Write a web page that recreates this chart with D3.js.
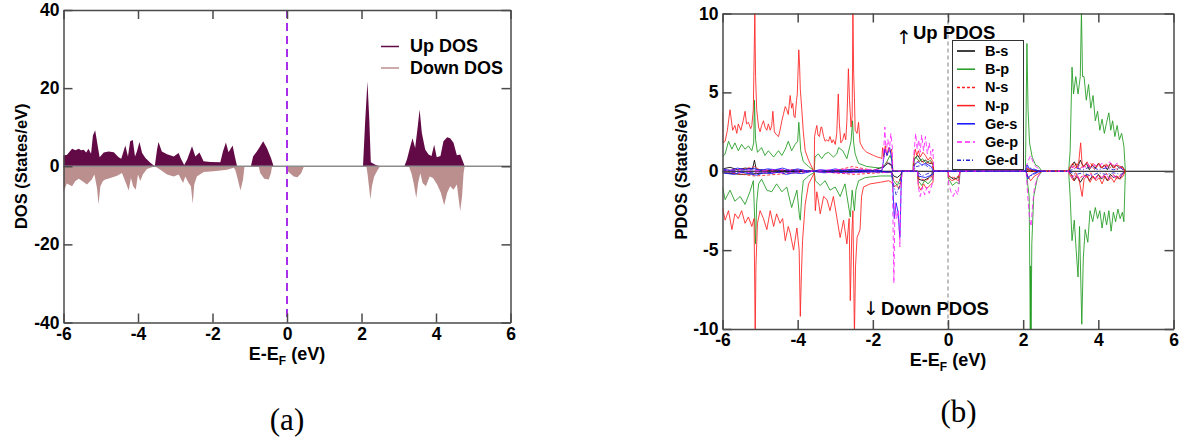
<!DOCTYPE html>
<html>
<head>
<meta charset="utf-8">
<script src="https://cdn.jsdelivr.net/npm/d3@7"></script>
<style>
    body { margin: 0; background: #fff; }
    svg { display: block; font-family: "Liberation Sans", Arial, sans-serif; }
    .axis path, .axis line { stroke: #4a4a4a; stroke-width: 1.5; }
    .axis text { font-size: 17.5px; font-weight: bold; fill: #000; font-family: "Liberation Sans", Arial, sans-serif; }
    .title { font-weight: bold; fill: #000; }
    .panel-label { font-family: "Liberation Serif", "Times New Roman", serif; font-size: 31px; fill: #000; }
</style>
</head>
<body>
<svg id="chart" width="1184" height="440"></svg>
<script>
"use strict";

// ---- panel (a): total DOS, [energy (eV), states/eV] ----
const upDos = [
    [-6.0, 2.8], [-5.91, 2.9], [-5.77, 4.5], [-5.68, 4.1], [-5.59, 4.5], [-5.53, 4.1], [-5.46, 4.2],
    [-5.39, 3.5], [-5.33, 4.5], [-5.26, 3.2], [-5.21, 7.9], [-5.15, 9.2], [-5.08, 5.1], [-5.03, 2.3],
    [-4.92, 3.5], [-4.79, 3.8], [-4.65, 3.6], [-4.52, 2.3], [-4.45, 1.9], [-4.34, 5.3], [-4.27, 2.5],
    [-4.21, 6.4], [-4.14, 6.7], [-4.08, 2.5], [-4.03, 3.8], [-3.96, 6.2], [-3.89, 3.4], [-3.80, 2.1],
    [-3.67, 0.9], [-3.55, 0], [-3.49, 4.2], [-3.45, 6.2], [-3.36, 3.8], [-3.22, 3.1], [-3.04, 2.5],
    [-2.91, 3.4], [-2.85, 2.0], [-2.76, 0.3], [-2.68, 1.7], [-2.55, 5.1], [-2.46, 2.5], [-2.35, 3.5],
    [-2.24, 1.3], [-2.06, 1.1], [-1.79, 1.0], [-1.72, 3.8], [-1.64, 6.1], [-1.57, 3.6], [-1.46, 5.3],
    [-1.40, 2.5], [-1.34, 0], [-0.97, 0], [-0.91, 2.5], [-0.81, 3.8], [-0.72, 5.1], [-0.64, 6.4],
    [-0.54, 4.7], [-0.43, 2.1], [-0.36, 0], [2.04, 0], [2.10, 11.8], [2.16, 21.7], [2.21, 11.8],
    [2.25, 1.0], [2.37, 0.4], [2.49, 0], [3.15, 0], [3.22, 1.7], [3.31, 5.1], [3.37, 7.2], [3.44, 4.7],
    [3.51, 10.2], [3.56, 14.5], [3.62, 8.5], [3.71, 4.3], [3.80, 3.0], [3.88, 2.6], [3.95, 5.5],
    [4.02, 2.3], [4.12, 2.6], [4.20, 6.4], [4.30, 7.4], [4.38, 7.2], [4.47, 6.0], [4.56, 2.8],
    [4.65, 3.0], [4.72, 1.3], [4.77, 0]
];
const downDos = [
    [-6.0, -6.5], [-5.91, -4.4], [-5.77, -5.1], [-5.68, -3.8], [-5.59, -3.2], [-5.50, -3.8], [-5.37, -4.7],
    [-5.24, -3.4], [-5.17, -2.1], [-5.10, -5.6], [-5.06, -9.8], [-5.01, -5.1], [-4.94, -3.8], [-4.88, -3.4],
    [-4.74, -3.0], [-4.56, -2.4], [-4.43, -1.7], [-4.31, -4.7], [-4.25, -6.2], [-4.19, -3.0], [-4.13, -5.1],
    [-4.06, -6.0], [-4.00, -2.1], [-3.94, -3.8], [-3.87, -2.1], [-3.76, -0.7], [-3.55, 0], [-3.40, -0.9],
    [-3.22, -2.1], [-3.04, -2.6], [-2.91, -2.1], [-2.79, -4.3], [-2.73, -2.6], [-2.64, -4.3], [-2.58, -5.1],
    [-2.53, -9.6], [-2.49, -4.7], [-2.42, -2.6], [-2.24, -1.5], [-1.97, -1.3], [-1.61, -0.9], [-1.43, -0.4],
    [-1.39, -0.9], [-1.33, -3.0], [-1.25, -6.2], [-1.18, -3.4], [-1.14, 0], [-0.76, 0], [-0.72, -1.7],
    [-0.61, -3.2], [-0.49, -3.4], [-0.43, -1.7], [-0.40, 0], [-0.05, 0], [0.02, -1.3], [0.18, -2.6],
    [0.28, -2.8], [0.38, -1.8], [0.45, -0.1], [0.47, 0], [2.13, 0], [2.16, -1.8], [2.20, -5.1],
    [2.24, -8.5], [2.28, -5.1], [2.34, -2.6], [2.43, -1.0], [2.50, 0], [3.27, 0], [3.34, -1.8],
    [3.40, -4.3], [3.47, -8.1], [3.52, -4.3], [3.58, -1.8], [3.64, -4.3], [3.73, -5.1], [3.83, -2.6],
    [3.92, -3.0], [4.03, -4.7], [4.13, -6.8], [4.22, -10.0], [4.30, -6.8], [4.38, -5.1], [4.47, -6.0],
    [4.56, -4.7], [4.65, -11.5], [4.70, -7.7], [4.74, -1.8], [4.77, 0]
];
const dosLegend = ['Up DOS', 'Down DOS'];

// ---- panel (b): projected DOS, [energy (eV), states/eV] ----
const bsUp = [
    [-6, 0.15], [-5.8, 0.25], [-5.6, 0.1], [-5.4, 0.2], [-5.2, 0.15], [-5.15, 0.7], [-5.1, 0.1], [-4.8, 0.05],
    [-4.0, 0.05], [-3.6, 0], [-3.0, 0.05], [-2.5, 0.1], [-2.0, 0.05], [-1.7, 0.3], [-1.6, 0.5], [-1.5, 0.4],
    [-1.47, 0], [-0.92, 0], [-0.9, 0.8], [-0.8, 1.0], [-0.7, 0.6], [-0.6, 0.7], [-0.5, 0.5], [-0.4, 0.5],
    [-0.38, 0], [2.06, 0], [2.1, 0.1], [2.5, 0], [3.2, 0], [3.28, 0.3], [3.36, 0.6], [3.44, 0.2], [3.52, 0.7],
    [3.6, 0.3], [3.68, 0.5], [3.76, 0.1], [3.84, 0.4], [3.92, 0.2], [4.0, 0.5], [4.08, 0.2], [4.16, 0.4],
    [4.24, 0.1], [4.32, 0.5], [4.4, 0.2], [4.48, 0.4], [4.56, 0.2], [4.64, 0.3], [4.72, 0]
];
const bsDown = [
    [-6, -0.1], [-5.5, -0.2], [-5.1, -0.15], [-4.5, -0.05], [-3.6, 0], [-3, -0.05], [-2, -0.03], [-1.5, -0.05],
    [-1.45, -0.3], [-1.35, -0.4], [-1.25, -0.2], [-1.23, 0], [-0.81, 0], [-0.79, -0.5], [-0.65, -0.6],
    [-0.5, -0.4], [-0.38, 0], [0, 0], [0.02, -0.3], [0.15, -0.5], [0.28, -0.4], [0.32, 0], [3.2, 0],
    [3.28, -0.2], [3.36, -0.6], [3.44, -0.3], [3.52, -0.7], [3.6, -0.4], [3.68, -0.2], [3.76, -0.6],
    [3.84, -0.3], [3.92, -0.5], [4.0, -0.2], [4.08, -0.5], [4.16, -0.3], [4.24, -0.6], [4.32, -0.2],
    [4.4, -0.4], [4.48, -0.3], [4.56, -0.5], [4.64, -0.2], [4.72, 0]
];
const bpUp = [
    [-6.00, 0.9], [-5.93, 1.1], [-5.84, 1.9], [-5.75, 1.4], [-5.67, 1.8], [-5.58, 1.3], [-5.49, 1.7],
    [-5.40, 1.4], [-5.31, 1.6], [-5.22, 1.3], [-5.17, 1.8], [-5.15, 4.5], [-5.12, 2.0], [-5.07, 1.2],
    [-4.96, 1.5], [-4.87, 1.0], [-4.78, 1.3], [-4.64, 0.9], [-4.51, 1.3], [-4.42, 1.0], [-4.33, 1.4],
    [-4.25, 1.9], [-4.16, 1.3], [-4.07, 1.7], [-4.00, 1.9], [-3.97, 3.1], [-3.95, 2.5], [-3.92, 1.3],
    [-3.85, 0.6], [-3.71, 0.3], [-3.60, 0.1], [-3.56, 0], [-3.54, 0.9], [-3.45, 1.1], [-3.36, 0.8],
    [-3.27, 1.1], [-3.18, 1.2], [-3.05, 0.9], [-2.96, 1.1], [-2.91, 1.5], [-2.80, 1.3], [-2.69, 0.8],
    [-2.58, 1.9], [-2.54, 3.2], [-2.51, 1.8], [-2.47, 1.1], [-2.38, 0.5], [-2.16, 0.3], [-1.80, 0.2],
    [-1.71, 0.3], [-1.63, 0.6], [-1.54, 1.0], [-1.48, 0.6], [-1.47, 0], [-0.93, 0], [-0.92, 0.6],
    [-0.85, 0.9], [-0.76, 0.6], [-0.68, 0.8], [-0.58, 0.5], [-0.47, 0.7], [-0.39, 0.4], [-0.38, 0],
    [2.06, 0], [2.10, 8.1], [2.13, 3.9], [2.17, 1.8], [2.24, 0.9], [2.33, 0.4], [2.41, 0.3], [2.50, 0],
    [3.21, 0], [3.25, 1.3], [3.30, 6.6], [3.34, 4.9], [3.40, 6.0], [3.46, 4.9], [3.52, 6.0], [3.55, 10.2],
    [3.58, 6.0], [3.62, 6.0], [3.68, 4.5], [3.74, 5.5], [3.80, 4.0], [3.86, 4.8], [3.92, 3.2], [3.98, 3.8],
    [4.04, 2.6], [4.10, 3.3], [4.16, 2.4], [4.22, 3.1], [4.28, 3.7], [4.33, 2.6], [4.38, 3.2], [4.44, 2.2],
    [4.50, 2.9], [4.56, 2.0], [4.62, 2.4], [4.68, 1.6], [4.72, 0]
];
const bpDown = [
    [-6.00, -1.0], [-5.93, -1.8], [-5.80, -1.2], [-5.67, -1.9], [-5.53, -1.6], [-5.40, -2.1], [-5.27, -1.3],
    [-5.18, -0.6], [-5.12, -4.6], [-5.09, -2.0], [-5.04, -0.8], [-4.96, -0.5], [-4.82, -1.2], [-4.69, -1.3],
    [-4.56, -0.8], [-4.42, -1.3], [-4.29, -1.0], [-4.16, -2.3], [-4.02, -1.2], [-3.95, -2.9], [-3.93, -3.1],
    [-3.89, -1.5], [-3.85, -0.6], [-3.71, -0.3], [-3.58, -0.1], [-3.56, 0], [-3.53, -0.6], [-3.40, -0.9],
    [-3.27, -0.6], [-3.14, -1.2], [-3.00, -1.0], [-2.87, -1.6], [-2.74, -0.8], [-2.60, -2.9], [-2.55, -1.2],
    [-2.49, -2.5], [-2.45, -1.2], [-2.38, -0.6], [-2.2, -0.4], [-1.8, -0.3], [-1.5, -0.3], [-1.45, -0.6],
    [-1.35, -0.9], [-1.27, -0.5], [-1.23, 0], [-0.81, 0], [-0.79, -0.6], [-0.70, -0.9], [-0.62, -0.6],
    [-0.53, -0.8], [-0.42, -0.5], [-0.38, 0], [0.0, 0], [0.02, -0.5], [0.12, -0.9], [0.22, -0.7],
    [0.30, -0.8], [0.32, 0], [2.08, 0], [2.12, -0.8], [2.16, -1.6], [2.19, -10.5], [2.20, -6.0],
    [2.21, -10.5], [2.23, -4.6], [2.28, -1.6], [2.38, -0.4], [2.5, 0], [3.21, 0], [3.25, -1.6],
    [3.30, -4.4], [3.36, -3.1], [3.41, -5.0], [3.46, -6.7], [3.50, -3.5], [3.56, -9.7], [3.60, -5.5],
    [3.65, -3.7], [3.72, -4.5], [3.78, -2.5], [3.85, -3.2], [3.92, -2.3], [3.98, -3.0], [4.04, -2.5],
    [4.10, -3.6], [4.16, -2.6], [4.22, -3.4], [4.28, -2.5], [4.34, -3.8], [4.40, -2.6], [4.46, -3.2],
    [4.52, -2.4], [4.58, -3.0], [4.64, -2.6], [4.68, -3.2], [4.72, 0]
];
const nsUp = [
    [-6, 0.05], [-5.5, 0.1], [-5.13, 0.3], [-5, 0.05], [-4, 0.1], [-3.6, 0], [-3, 0.05], [-2.53, 0.3],
    [-2, 0.05], [-1.76, 0.05], [-1.7, 0.4], [-1.6, 0.6], [-1.5, 0.3], [-1.47, 0], [-0.92, 0], [-0.88, 0.5],
    [-0.75, 0.7], [-0.6, 0.5], [-0.45, 0.6], [-0.38, 0], [3.2, 0], [3.3, 0.2], [3.4, 0.5], [3.5, 0.1],
    [3.6, 0.4], [3.7, 0.2], [3.8, 0.5], [3.9, 0.1], [4.0, 0.4], [4.1, 0.2], [4.2, 0.5], [4.3, 0.2],
    [4.4, 0.4], [4.5, 0.1], [4.6, 0.3], [4.72, 0]
];
const nsDown = [
    [-6, -0.05], [-5.13, -0.3], [-4, -0.1], [-3.6, 0], [-2.5, -0.2], [-1.5, -0.05], [-1.45, -0.5],
    [-1.35, -0.7], [-1.25, -0.4], [-1.23, 0], [-0.81, 0], [-0.78, -0.4], [-0.6, -0.6], [-0.45, -0.4],
    [-0.38, 0], [0, 0], [0.02, -0.3], [0.15, -0.4], [0.3, -0.3], [0.32, 0], [3.2, 0], [3.3, -0.3],
    [3.4, -0.1], [3.5, -0.5], [3.6, -0.2], [3.7, -0.4], [3.8, -0.1], [3.9, -0.5], [4.0, -0.2], [4.1, -0.4],
    [4.2, -0.1], [4.3, -0.4], [4.4, -0.2], [4.5, -0.5], [4.6, -0.2], [4.72, 0]
];
const npUp = [
    [-6.00, 3.7], [-5.99, 1.8], [-5.93, 1.9], [-5.87, 2.6], [-5.80, 3.9], [-5.73, 2.6], [-5.67, 2.9],
    [-5.62, 2.4], [-5.58, 3.0], [-5.51, 2.6], [-5.45, 3.2], [-5.40, 3.8], [-5.36, 3.0], [-5.31, 3.1],
    [-5.25, 2.7], [-5.22, 2.9], [-5.18, 3.9], [-5.14, 10.2], [-5.12, 6.0], [-5.09, 3.9], [-5.04, 2.8],
    [-5.00, 2.5], [-4.96, 2.9], [-4.91, 3.2], [-4.87, 2.8], [-4.82, 2.6], [-4.78, 3.0], [-4.73, 2.6],
    [-4.69, 2.9], [-4.66, 3.8], [-4.62, 2.5], [-4.56, 2.3], [-4.51, 2.2], [-4.47, 2.6], [-4.42, 3.2],
    [-4.38, 3.6], [-4.33, 4.1], [-4.29, 3.9], [-4.25, 3.6], [-4.20, 4.8], [-4.16, 4.0], [-4.13, 4.3],
    [-4.10, 3.5], [-4.07, 3.4], [-4.03, 4.5], [-4.01, 4.9], [-3.97, 7.7], [-3.95, 6.8], [-3.93, 5.2],
    [-3.89, 3.9], [-3.85, 2.5], [-3.80, 1.3], [-3.71, 0.7], [-3.65, 0.4], [-3.59, 0.1], [-3.56, 0],
    [-3.55, 2.2], [-3.52, 2.6], [-3.49, 2.9], [-3.46, 2.3], [-3.42, 2.2], [-3.38, 2.8], [-3.36, 2.8],
    [-3.31, 2.2], [-3.27, 1.9], [-3.22, 2.0], [-3.18, 1.9], [-3.14, 2.2], [-3.09, 1.8], [-3.05, 2.0],
    [-3.00, 1.7], [-2.96, 2.4], [-2.92, 4.9], [-2.89, 3.0], [-2.85, 1.8], [-2.80, 2.0], [-2.76, 2.4],
    [-2.72, 2.0], [-2.69, 3.2], [-2.65, 6.5], [-2.62, 4.5], [-2.58, 2.8], [-2.55, 3.5], [-2.53, 10.2],
    [-2.51, 6.2], [-2.49, 4.7], [-2.47, 2.6], [-2.42, 2.4], [-2.38, 3.1], [-2.34, 1.8], [-2.25, 1.4],
    [-2.16, 1.2], [-2.07, 1.1], [-1.98, 1.0], [-1.88, 0.9], [-1.80, 0.85], [-1.76, 0.8], [-1.74, 1.5],
    [-1.71, 0.9], [-1.67, 1.6], [-1.63, 1.0], [-1.58, 1.5], [-1.54, 1.2], [-1.50, 1.4], [-1.47, 0],
    [-0.93, 0], [-0.92, 0.7], [-0.87, 1.4], [-0.83, 1.0], [-0.79, 1.3], [-0.74, 0.9], [-0.67, 1.2],
    [-0.60, 1.0], [-0.53, 0.7], [-0.47, 0.9], [-0.40, 0.6], [-0.38, 0], [2.08, 0], [2.12, 0.2],
    [2.18, 0.1], [2.30, 0.05], [2.45, 0], [3.20, 0], [3.25, 0.3], [3.32, 0.5], [3.40, 0.2], [3.48, 0.6],
    [3.53, 1.8], [3.57, 0.4], [3.62, 0.3], [3.70, 0.6], [3.78, 0.2], [3.86, 0.5], [3.94, 0.3], [4.02, 0.5],
    [4.10, 0.2], [4.18, 0.4], [4.26, 0.3], [4.34, 0.5], [4.42, 0.2], [4.50, 0.4], [4.58, 0.3], [4.66, 0.2],
    [4.72, 0]
];
const npDown = [
    [-6.00, -2.3], [-5.93, -3.1], [-5.84, -2.5], [-5.75, -3.7], [-5.67, -2.7], [-5.58, -3.0], [-5.49, -2.5],
    [-5.40, -3.3], [-5.31, -2.9], [-5.22, -3.5], [-5.16, -3.0], [-5.13, -10.5], [-5.11, -6.0], [-5.07, -3.3],
    [-5.00, -2.5], [-4.91, -3.0], [-4.82, -3.7], [-4.73, -2.5], [-4.64, -3.5], [-4.56, -2.7], [-4.47, -3.3],
    [-4.40, -3.0], [-4.33, -4.4], [-4.25, -3.5], [-4.20, -3.9], [-4.11, -5.0], [-4.02, -3.6], [-3.96, -5.0],
    [-3.93, -9.2], [-3.90, -6.5], [-3.87, -4.4], [-3.80, -2.1], [-3.71, -0.8], [-3.62, -0.4], [-3.56, -0.1],
    [-3.53, -2.5], [-3.49, -1.3], [-3.44, -2.0], [-3.40, -2.7], [-3.31, -1.6], [-3.22, -1.8], [-3.14, -2.5],
    [-3.05, -1.6], [-2.96, -2.9], [-2.87, -4.2], [-2.78, -3.1], [-2.69, -4.6], [-2.63, -3.0], [-2.60, -8.2],
    [-2.56, -4.0], [-2.53, -2.5], [-2.49, -10.5], [-2.46, -6.0], [-2.42, -4.2], [-2.34, -3.7], [-2.30, -1.6],
    [-2.25, -1.0], [-2.07, -0.8], [-1.80, -0.7], [-1.58, -0.6], [-1.50, -0.7], [-1.45, -1.0], [-1.38, -0.9],
    [-1.30, -1.1], [-1.24, -0.5], [-1.22, 0], [-0.81, 0], [-0.79, -0.9], [-0.72, -1.2], [-0.65, -0.8],
    [-0.57, -1.1], [-0.48, -0.9], [-0.40, -0.7], [-0.38, 0], [0.0, 0], [0.02, -0.4], [0.10, -0.6],
    [0.20, -0.5], [0.28, -0.6], [0.32, 0], [2.08, 0], [2.12, -0.3], [2.20, -0.6], [2.30, -0.3],
    [2.45, -0.1], [2.50, 0], [3.20, 0], [3.26, -0.3], [3.34, -0.6], [3.42, -0.2], [3.50, -0.7],
    [3.57, -1.6], [3.62, -0.5], [3.70, -0.3], [3.78, -0.7], [3.86, -0.3], [3.94, -0.6], [4.02, -0.4],
    [4.10, -0.8], [4.18, -0.3], [4.26, -0.6], [4.34, -0.4], [4.42, -0.7], [4.50, -0.3], [4.58, -0.5],
    [4.66, -0.3], [4.72, 0]
];
const gesUp = [
    [-6, 0.15], [-5.8, 0.05], [-5.6, 0.2], [-5.4, 0.1], [-5.2, 0.2], [-5.0, 0.05], [-4.8, 0.15], [-4.6, 0.1],
    [-4.4, 0.2], [-4.2, 0.05], [-4.0, 0.15], [-3.8, 0.05], [-3.6, 0], [-3.4, 0.1], [-3.2, 0.05], [-3.0, 0.15],
    [-2.8, 0.05], [-2.6, 0.1], [-2.4, 0.05], [-2.0, 0.02], [-1.76, 0.05], [-1.72, 0.6], [-1.68, 1.4],
    [-1.62, 1.0], [-1.55, 1.5], [-1.50, 0.8], [-1.47, 0], [-0.92, 0], [-0.9, 0.4], [-0.8, 0.6], [-0.7, 0.4],
    [-0.6, 0.5], [-0.45, 0.3], [-0.38, 0], [2.06, 0], [2.1, 0.3], [2.16, 0.2], [2.3, 0.05], [2.5, 0]
];
const gesDown = [
    [-6, -0.1], [-5.7, -0.2], [-5.5, -0.05], [-5.3, -0.15], [-5.1, -0.25], [-4.9, -0.1], [-4.7, -0.15],
    [-4.5, -0.05], [-4.3, -0.2], [-4.1, -0.1], [-3.9, -0.15], [-3.6, 0], [-3.3, -0.1], [-3.0, -0.05],
    [-2.7, -0.1], [-2.4, -0.05], [-2.0, -0.02], [-1.5, -0.05], [-1.47, -0.8], [-1.43, -3.0], [-1.38, -2.0],
    [-1.33, -2.6], [-1.28, -4.2], [-1.25, -1.2], [-1.23, 0], [-0.81, 0], [-0.8, -0.3], [-0.6, -0.4],
    [-0.4, -0.2], [-0.38, 0], [2.08, 0], [2.12, -0.4], [2.18, -0.3], [2.3, -0.1], [2.5, 0]
];
const gepUp = [
    [-6, 0.05], [-5.5, 0.1], [-5, 0.05], [-4.5, 0.1], [-4, 0.05], [-3.6, 0], [-3.5, 0.05], [-3.0, 0.1],
    [-2.5, 0.15], [-2.0, 0.1], [-1.76, 0.1], [-1.72, 0.8], [-1.68, 2.8], [-1.65, 1.2], [-1.60, 2.0],
    [-1.56, 1.3], [-1.52, 2.4], [-1.48, 1.5], [-1.47, 0], [-0.92, 0], [-0.91, 1.0], [-0.86, 2.4],
    [-0.82, 1.4], [-0.78, 2.0], [-0.74, 1.2], [-0.70, 2.3], [-0.65, 1.3], [-0.60, 2.2], [-0.55, 1.1],
    [-0.50, 1.8], [-0.45, 1.0], [-0.40, 1.4], [-0.38, 0], [2.05, 0], [2.08, 0.3], [2.14, 0.7], [2.2, 1.0],
    [2.26, 0.6], [2.33, 0.3], [2.45, 0.1], [2.5, 0], [3.2, 0], [3.3, 0.3], [3.4, 0.1], [3.5, 0.4],
    [3.6, 0.2], [3.7, 0.5], [3.8, 0.2], [3.9, 0.4], [4.0, 0.3], [4.1, 0.5], [4.2, 0.2], [4.3, 0.6],
    [4.4, 0.3], [4.5, 0.5], [4.6, 0.2], [4.7, 0]
];
const gepDown = [
    [-6, -0.05], [-5.5, -0.1], [-5, -0.05], [-4.5, -0.1], [-4, -0.05], [-3.6, 0], [-3, -0.1], [-2.5, -0.1],
    [-2, -0.05], [-1.5, -0.1], [-1.48, -0.5], [-1.44, -7.1], [-1.41, -2.0], [-1.37, -3.0], [-1.32, -2.5],
    [-1.28, -4.8], [-1.25, -1.5], [-1.23, 0], [-0.81, 0], [-0.79, -1.0], [-0.74, -1.6], [-0.68, -1.0],
    [-0.62, -1.5], [-0.56, -1.0], [-0.5, -1.4], [-0.42, -0.8], [-0.38, 0], [0, 0], [0.02, -0.8],
    [0.08, -1.3], [0.14, -1.6], [0.2, -1.2], [0.26, -1.5], [0.32, 0], [2.08, 0], [2.12, -1.5],
    [2.17, -3.0], [2.21, -3.5], [2.24, -2.5], [2.3, -1.0], [2.4, -0.3], [2.5, 0], [3.2, 0], [3.3, -0.4],
    [3.4, -0.2], [3.5, -0.5], [3.6, -0.3], [3.7, -0.4], [3.8, -0.2], [3.9, -0.5], [4.0, -0.3], [4.1, -0.4],
    [4.2, -0.2], [4.3, -0.5], [4.4, -0.3], [4.5, -0.4], [4.6, -0.3], [4.7, 0]
];
const gedUp = [
    [-6, 0.05], [-5, 0.1], [-4, 0.05], [-3.6, 0], [-3, 0.05], [-2, 0.05], [-1.76, 0.05], [-1.7, 0.3],
    [-1.6, 0.6], [-1.5, 0.4], [-1.47, 0], [-0.92, 0], [-0.85, 0.3], [-0.6, 0.4], [-0.38, 0], [2.06, 0],
    [2.1, 0.4], [2.2, 0.2], [2.4, 0.05], [2.5, 0], [3.2, 0], [3.4, 0.2], [3.6, 0.1], [3.8, 0.3], [4.0, 0.1],
    [4.2, 0.2], [4.4, 0.1], [4.6, 0.2], [4.72, 0]
];
const gedDown = [
    [-6, -0.05], [-5, -0.1], [-4, -0.05], [-3.6, 0], [-3, -0.05], [-1.5, -0.05], [-1.45, -0.8], [-1.38, -1.5],
    [-1.3, -1.0], [-1.23, 0], [-0.81, 0], [-0.7, -0.3], [-0.38, 0], [2.08, 0], [2.12, -0.5], [2.2, -0.3],
    [2.4, -0.05], [2.5, 0], [3.2, 0], [3.4, -0.2], [3.6, -0.1], [3.8, -0.3], [4.0, -0.1], [4.2, -0.2],
    [4.4, -0.1], [4.6, -0.2], [4.72, 0]
];
const pdosNames = ['B-s', 'B-p', 'N-s', 'N-p', 'Ge-s', 'Ge-p', 'Ge-d'];

const energyTicks = [-6, -4, -2, 0, 2, 4, 6];
const dosTicks = [-40, -20, 0, 20, 40];
const pdosTicks = [-10, -5, 0, 5, 10];


const svg = d3.select('#chart');

/**
 * Frame with inward ticks on all four sides, labels only on bottom and left.
 */
function drawFrame(x, y, xTicks, yTicks) {
    const [left, right] = x.range();
    const [bottom, top] = y.range();
    const fmt = d => String(d);   // keep a plain hyphen for negatives

    svg.append('g').attr('class', 'axis')
        .attr('transform', `translate(0,${bottom})`)
        .call(d3.axisBottom(x).tickValues(xTicks).tickFormat(fmt).tickSize(-9).tickSizeOuter(0).tickPadding(5));
    svg.append('g').attr('class', 'axis')
        .attr('transform', `translate(0,${top})`)
        .call(d3.axisTop(x).tickValues(xTicks).tickFormat('').tickSize(-9).tickSizeOuter(0));
    svg.append('g').attr('class', 'axis')
        .attr('transform', `translate(${left},0)`)
        .call(d3.axisLeft(y).tickValues(yTicks).tickFormat(fmt).tickSize(-9).tickSizeOuter(0).tickPadding(4));
    svg.append('g').attr('class', 'axis')
        .attr('transform', `translate(${right},0)`)
        .call(d3.axisRight(y).tickValues(yTicks).tickFormat('').tickSize(-9).tickSizeOuter(0));
}

/**
 * "E-E_F (eV)" with a subscripted F.
 */
function energyTitle(cx, baseline) {
    const t = svg.append('text').attr('class', 'title')
        .attr('x', cx).attr('y', baseline)
        .attr('text-anchor', 'middle').attr('font-size', 18);
    t.append('tspan').text('E-E');
    t.append('tspan').attr('font-size', 12).attr('dy', 5).text('F');
    t.append('tspan').attr('dy', -5).text(' (eV)');
}

function yTitle(text, x, cy) {
    svg.append('text').attr('class', 'title')
        .attr('transform', `translate(${x},${cy}) rotate(-90)`)
        .attr('text-anchor', 'middle').attr('font-size', 16.5)
        .text(text);
}


// ===================== panel (a) =====================
const xA = d3.scaleLinear().domain([-6, 6]).range([63.5, 510.5]);
const yA = d3.scaleLinear().domain([-40, 40]).range([322.5, 10]);
const UP_FILL = '#620a46';
const DOWN_FILL = '#bc8f8f';

const area = d3.area().x(d => xA(d[0])).y0(yA(0)).y1(d => yA(d[1]));
svg.append('path').datum(upDos).attr('d', area).attr('fill', UP_FILL);
svg.append('path').datum(downDos).attr('d', area).attr('fill', DOWN_FILL);

svg.append('line')
    .attr('x1', xA(-6)).attr('x2', xA(6)).attr('y1', yA(0)).attr('y2', yA(0))
    .attr('stroke', '#8c8c8c').attr('stroke-width', 1.5);
svg.append('line')
    .attr('x1', xA(0)).attr('x2', xA(0)).attr('y1', yA(40)).attr('y2', yA(-40))
    .attr('stroke', '#a82ee8').attr('stroke-width', 2).attr('stroke-dasharray', '8,5');

drawFrame(xA, yA, energyTicks, dosTicks);

// legend
[UP_FILL, DOWN_FILL].forEach((color, i) => {
    svg.append('line')
        .attr('x1', 381).attr('x2', 399).attr('y1', 46.5 + i * 21.5).attr('y2', 46.5 + i * 21.5)
        .attr('stroke', color).attr('stroke-width', 1.5);
    svg.append('text').attr('class', 'title')
        .attr('x', 410).attr('y', 52 + i * 22).attr('font-size', 18)
        .text(dosLegend[i]);
});

yTitle('DOS (States/eV)', 26.5, yA(0));
energyTitle(xA(0), 360);
svg.append('text').attr('class', 'panel-label')
    .attr('x', xA(0)).attr('y', 429.5).attr('text-anchor', 'middle').text('(a)');


// ===================== panel (b) =====================
const xB = d3.scaleLinear().domain([-6, 6]).range([722.5, 1173.5]);
const yB = d3.scaleLinear().domain([-10, 10]).range([329, 13.5]);

svg.append('clipPath').attr('id', 'clip-b')
    .append('rect').attr('x', xB(-6)).attr('y', yB(10))
    .attr('width', xB(6) - xB(-6)).attr('height', yB(-10) - yB(10));

const plotB = svg.append('g').attr('clip-path', 'url(#clip-b)');

plotB.append('line')
    .attr('x1', xB(-6)).attr('x2', xB(6)).attr('y1', yB(0)).attr('y2', yB(0))
    .attr('stroke', '#000').attr('stroke-width', 1);
plotB.append('line')
    .attr('x1', xB(0)).attr('x2', xB(0)).attr('y1', yB(10)).attr('y2', yB(-10))
    .attr('stroke', '#808080').attr('stroke-width', 1).attr('stroke-dasharray', '4,3');

const pdosSeries = [
    { up: bsUp, down: bsDown, color: '#000000', dash: null },
    { up: bpUp, down: bpDown, color: '#1f9a1f', dash: null },
    { up: nsUp, down: nsDown, color: '#ff2020', dash: '3,2' },
    { up: npUp, down: npDown, color: '#ff2020', dash: null },
    { up: gesUp, down: gesDown, color: '#1010ff', dash: null },
    { up: gepUp, down: gepDown, color: '#ff20ff', dash: '5,3' },
    { up: gedUp, down: gedDown, color: '#2020d0', dash: '4,2,1,2' },
];

const line = d3.line().x(d => xB(d[0])).y(d => yB(d[1]));
for (const s of pdosSeries) {
    for (const data of [s.up, s.down]) {
        plotB.append('path').datum(data).attr('d', line)
            .attr('fill', 'none').attr('stroke', s.color).attr('stroke-width', 1)
            .attr('stroke-opacity', 0.85)
            .attr('stroke-dasharray', s.dash);
    }
}

// legend box
const legend = svg.append('g');
legend.append('rect')
    .attr('x', 952.5).attr('y', 40.5).attr('width', 71).attr('height', 129)
    .attr('fill', '#fff').attr('stroke', '#333').attr('stroke-width', 1);
pdosSeries.forEach((s, i) => {
    const baseline = 56 + i * 18.2;
    legend.append('line')
        .attr('x1', 957).attr('x2', 975).attr('y1', baseline - 5).attr('y2', baseline - 5)
        .attr('stroke', s.color).attr('stroke-width', 1.5).attr('stroke-dasharray', s.dash);
    legend.append('text').attr('class', 'title')
        .attr('x', 985).attr('y', baseline).attr('font-size', 14.5)
        .text(pdosNames[i]);
});

// spin annotations
svg.append('text').attr('x', 904).attr('y', 44).attr('text-anchor', 'middle')
    .attr('font-family', 'DejaVu Sans').attr('font-size', 19).text('↑');
svg.append('text').attr('class', 'title').attr('x', 913).attr('y', 38.5).attr('font-size', 18.5).text('Up PDOS');
svg.append('text').attr('x', 871).attr('y', 315).attr('text-anchor', 'middle')
    .attr('font-family', 'DejaVu Sans').attr('font-size', 19).text('↓');
svg.append('text').attr('class', 'title').attr('x', 881).attr('y', 315).attr('font-size', 18.5).text('Down PDOS');

drawFrame(xB, yB, energyTicks, pdosTicks);

yTitle('PDOS (States/eV)', 686.5, yB(0));
energyTitle(xB(0), 366);
svg.append('text').attr('class', 'panel-label')
    .attr('x', 958.5).attr('y', 421.5).attr('text-anchor', 'middle').text('(b)');
</script>
</body>
</html>
